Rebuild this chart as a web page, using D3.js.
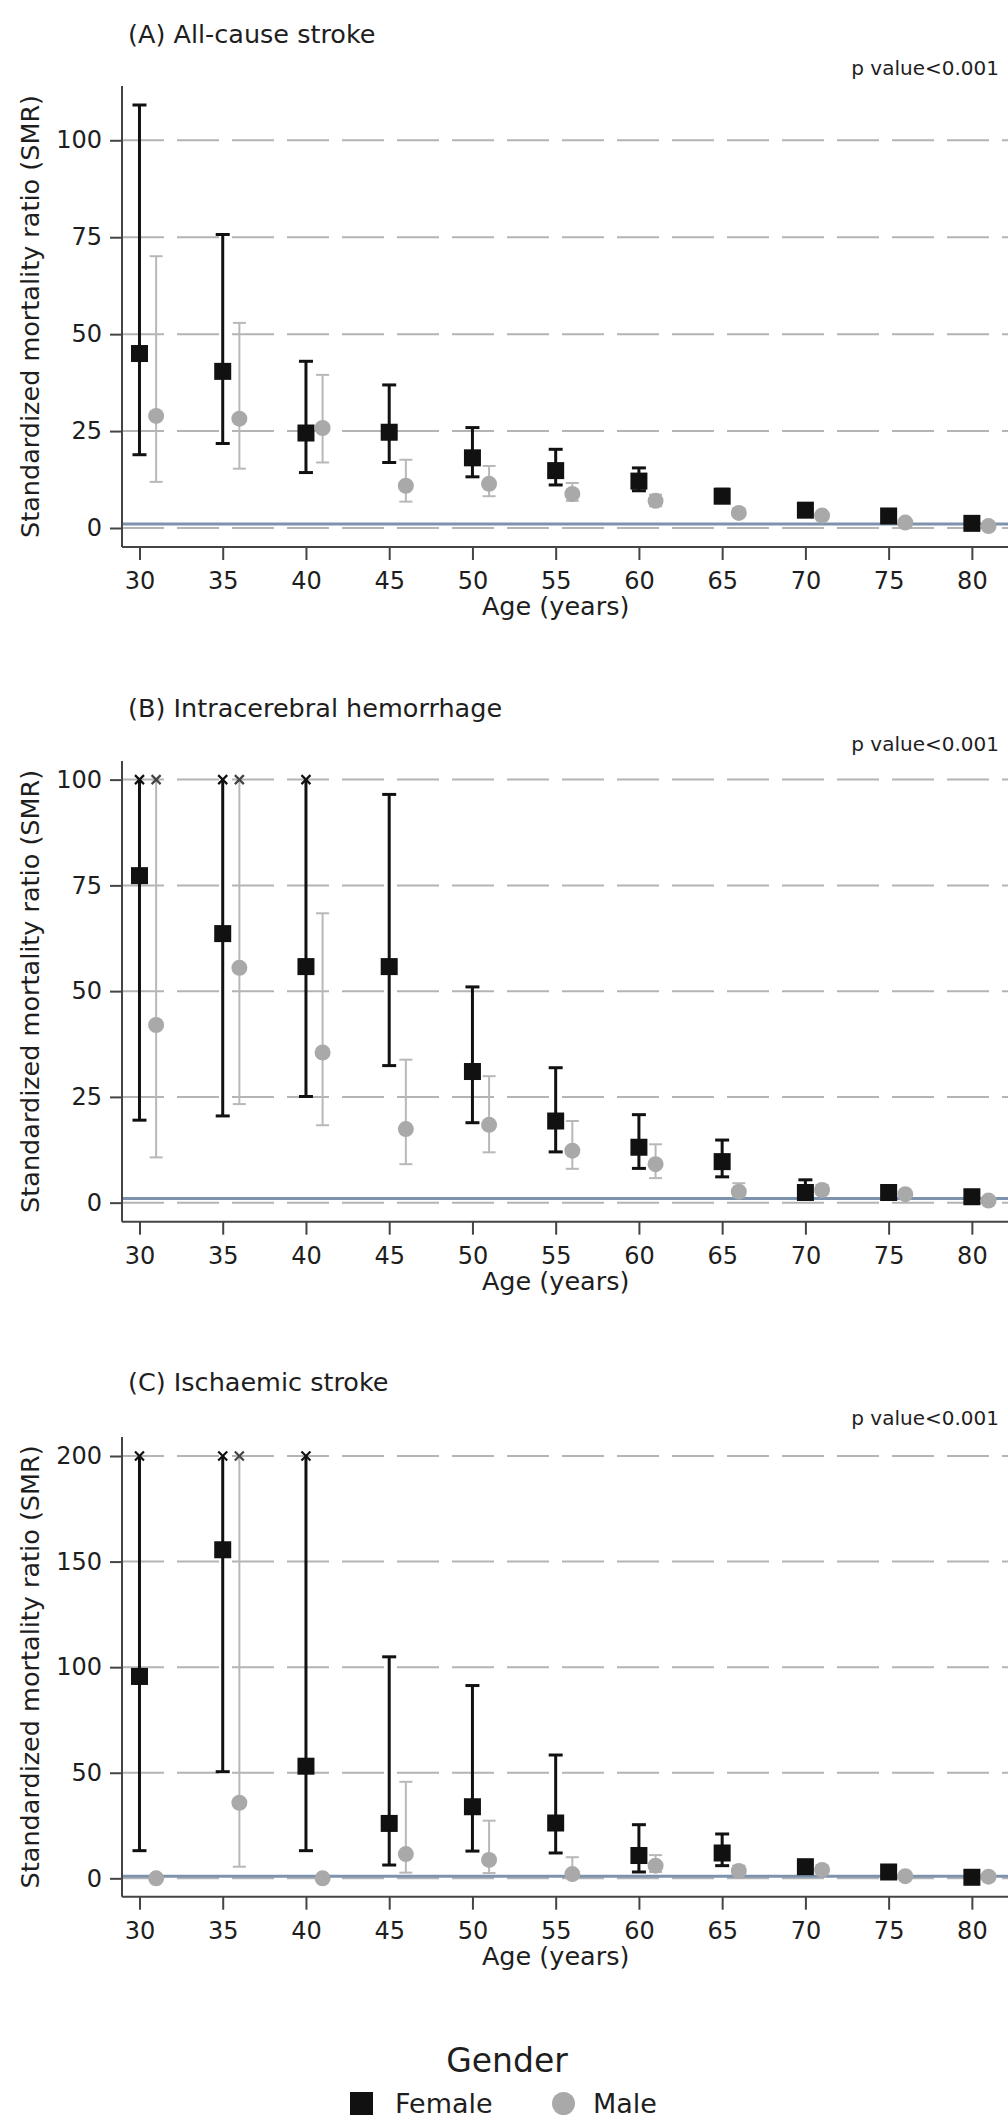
<!DOCTYPE html>
<html><head><meta charset="utf-8">
<script src="https://cdn.jsdelivr.net/npm/d3@7"></script>
<style>body{margin:0;background:#fff}svg{display:block}text{font-family:"DejaVu Sans",sans-serif;fill:#1e1e1e}</style>
</head><body>
<script>
// ---------- data ----------
const ages = [30,35,40,45,50,55,60,65,70,75,80];
const panelTitles = ["(A) All-cause stroke","(B) Intracerebral hemorrhage","(C) Ischaemic stroke"];
const pValueText = "p value<0.001";
const yTicksA = [0,25,50,75,100];
const yTicksB = [0,25,50,75,100];
const yTicksC = [0,50,100,150,200];
const xLabel = "Age (years)";
const yLabel = "Standardized mortality ratio (SMR)";
const legendTitle = "Gender";
const seriesNames = ["Female","Male"];

// Panel A: All-cause stroke
const femaleA      = [45.0,40.4,24.5,24.7,18.1,14.8,12.1, 8.2,4.6,3.1,1.2];
const femaleA_low  = [18.9,21.8,14.3,16.9,13.2,11.1, 9.6, 6.6,3.6,2.3,0.9];
const femaleA_high = [109.1,75.7,43.0,36.9,25.9,20.3,15.5,10.0,5.8,4.0,1.6];
const maleA        = [28.9,28.2,25.8,10.9,11.4, 8.8, 7.0, 3.9,3.2,1.4,0.5];
const maleA_low    = [11.9,15.3,16.9, 6.8, 8.2, 7.0, 5.6, 3.0,2.5,1.0,0.3];
const maleA_high   = [70.1,52.9,39.5,17.6,16.0,11.6, 8.6, 5.0,4.0,2.0,0.8];

// Panel B: Intracerebral hemorrhage (upper limits beyond 100 are truncated)
const femaleB      = [77.3,63.6,55.8,55.8,31.0,19.3,13.1, 9.7,2.4,2.4,1.4];
const femaleB_low  = [19.5,20.5,25.1,32.4,18.9,12.0, 8.1, 6.1,1.2,1.5,0.8];
const femaleB_high = [100,100,100,96.5,51.0,31.9,20.8,14.8,5.4,3.5,2.2];
const femaleB_trunc= [1,1,1,0,0,0,0,0,0,0,0];
const maleB        = [42.0,55.5,35.5,17.4,18.4,12.3, 9.1, 2.6,3.0,2.0,0.5];
const maleB_low    = [10.7,23.3,18.3, 9.1,11.9, 8.0, 5.8, 1.5,2.0,1.3,0.3];
const maleB_high   = [100,100,68.4,33.8,29.9,19.3,13.8, 4.6,4.2,2.8,0.9];
const maleB_trunc  = [1,1,0,0,0,0,0,0,0,0,0];

// Panel C: Ischaemic stroke (upper limits beyond 200 are truncated)
const femaleC      = [95.6,155.6,53.1,26.0,33.9,26.2,10.8,12.0,5.5,3.0,0.5];
const femaleC_low  = [13.1, 50.5,13.1, 6.3,12.9,12.0, 3.0, 6.0,3.0,1.5,0.2];
const femaleC_high = [200,200,200,104.9,91.3,58.4,25.4,21.0,8.0,4.5,1.0];
const femaleC_trunc= [1,1,1,0,0,0,0,0,0,0,0];
const maleC        = [0.0,35.8,0.0,11.5, 8.7, 2.0, 6.0, 3.5,4.0,1.0,0.8];
const maleC_low    = [null,5.5,null,2.7,2.5,0.4,3.0,2.0,2.5,0.5,0.4];
const maleC_high   = [null,200,null,45.7,27.3,10.0,11.0,6.0,6.0,1.5,1.2];
const maleC_trunc  = [0,1,0,0,0,0,0,0,0,0,0];

const refValue = 1;

// ---------- layout ----------
const W = 1008, H = 2122;
const svg = d3.select("body").append("svg").attr("width",W).attr("height",H);

const x = d3.scaleLinear().domain([28.95, 82.17]).range([122, 1008]);

const panels = [
  {title:panelTitles[0], ticks:yTicksA, dom:[-4.9,114], top:86, bottom:547, titleY:34, pY:68,
   f:femaleA, fl:femaleA_low, fh:femaleA_high, ft:null,
   m:maleA, ml:maleA_low, mh:maleA_high, mt:null},
  {title:panelTitles[1], ticks:yTicksB, dom:[-4.5,104.4], top:761, bottom:1221.7, titleY:708, pY:743.6,
   f:femaleB, fl:femaleB_low, fh:femaleB_high, ft:femaleB_trunc,
   m:maleB, ml:maleB_low, mh:maleB_high, mt:maleB_trunc},
  {title:panelTitles[2], ticks:yTicksC, dom:[-8.7,209], top:1437, bottom:1896.7, titleY:1382, pY:1417.5,
   f:femaleC, fl:femaleC_low, fh:femaleC_high, ft:femaleC_trunc,
   m:maleC, ml:maleC_low, mh:maleC_high, mt:maleC_trunc}
];

const FEM = "#111111", MALE_PT = "#a9a9a9", MALE_BAR = "#b8b8b8";

panels.forEach(p => {
  const g = svg.append("g");
  const y = d3.scaleLinear().domain(p.dom).range([p.bottom, p.top]);

  // title & p value
  g.append("text").attr("x",128).attr("y",p.titleY).attr("dominant-baseline","central")
    .style("font-size","25.5px").text(p.title);
  g.append("text").attr("x",999).attr("y",p.pY).attr("dominant-baseline","central")
    .attr("text-anchor","end").style("font-size","20px").text(pValueText);

  // gridlines
  g.selectAll(".grid").data(p.ticks).join("line")
    .attr("x1",122).attr("x2",1008).attr("y1",d=>y(d)).attr("y2",d=>y(d))
    .attr("stroke","#b4b4b4").attr("stroke-width",2).attr("stroke-dasharray","42,13");

  // reference line SMR = 1
  g.append("line").attr("x1",122).attr("x2",1008).attr("y1",y(refValue)).attr("y2",y(refValue))
    .attr("stroke","#7d93ad").attr("stroke-width",3);

  // y axis
  const ya = g.append("g").attr("transform","translate(122,0)")
    .call(d3.axisLeft(y).tickValues(p.ticks).tickSize(12).tickPadding(8).tickFormat(d3.format("d")));
  ya.select(".domain").remove();
  ya.selectAll(".tick line").attr("stroke","#444").attr("stroke-width",2);
  ya.selectAll(".tick text").style("font-size","24px").attr("fill","#1e1e1e");
  g.append("line").attr("x1",122).attr("x2",122).attr("y1",p.top).attr("y2",p.bottom)
    .attr("stroke","#444").attr("stroke-width",2);

  // x axis
  const xa = g.append("g").attr("transform",`translate(0,${p.bottom})`)
    .call(d3.axisBottom(x).tickValues(ages).tickSize(13).tickPadding(12).tickFormat(d3.format("d")));
  xa.select(".domain").remove();
  xa.selectAll(".tick line").attr("stroke","#444").attr("stroke-width",2);
  xa.selectAll(".tick text").style("font-size","24px").attr("fill","#1e1e1e");
  g.append("line").attr("x1",122).attr("x2",1008).attr("y1",p.bottom).attr("y2",p.bottom)
    .attr("stroke","#444").attr("stroke-width",2);

  g.append("text").attr("x",x(55)).attr("y",p.bottom+59).attr("text-anchor","middle")
    .attr("dominant-baseline","central").style("font-size","25.5px").text(xLabel);

  g.append("text").attr("transform",`translate(30,${(p.top+p.bottom)/2}) rotate(-90)`)
    .attr("text-anchor","middle").attr("dominant-baseline","central")
    .style("font-size","25.5px").text(yLabel);

  // series
  const mk = (vals, lo, hi, tr, off) => ages.map((a,i)=>({a:a+off, v:vals[i], lo:lo[i], hi:hi[i], tr: tr? tr[i]:0}));
  const fem = mk(p.f,p.fl,p.fh,p.ft,0);
  const mal = mk(p.m,p.ml,p.mh,p.mt,1);

  function bars(data, color, w, cap, xcolor) {
    const d2 = data.filter(d=>d.lo!=null && d.hi!=null);
    g.append("g").selectAll("line").data(d2).join("line")
      .attr("x1",d=>x(d.a)).attr("x2",d=>x(d.a)).attr("y1",d=>y(d.lo)).attr("y2",d=>y(d.hi))
      .attr("stroke",color).attr("stroke-width",w);
    g.append("g").selectAll("line").data(d2).join("line")
      .attr("x1",d=>x(d.a)-cap/2).attr("x2",d=>x(d.a)+cap/2).attr("y1",d=>y(d.lo)).attr("y2",d=>y(d.lo))
      .attr("stroke",color).attr("stroke-width",w);
    g.append("g").selectAll("line").data(d2.filter(d=>!d.tr)).join("line")
      .attr("x1",d=>x(d.a)-cap/2).attr("x2",d=>x(d.a)+cap/2).attr("y1",d=>y(d.hi)).attr("y2",d=>y(d.hi))
      .attr("stroke",color).attr("stroke-width",w);
    g.append("g").selectAll("path").data(d2.filter(d=>d.tr)).join("path")
      .attr("d",d=>{const cx=x(d.a), cy=y(d.hi), s=4.5;
        return `M${cx-s},${cy-s}L${cx+s},${cy+s}M${cx-s},${cy+s}L${cx+s},${cy-s}`;})
      .attr("stroke",xcolor).attr("stroke-width",2.2).attr("fill","none");
  }
  bars(fem, FEM, 3, 14, "#111");
  bars(mal, MALE_BAR, 2, 13, "#444");

  g.append("g").selectAll("rect").data(fem).join("rect")
    .attr("x",d=>x(d.a)-8.5).attr("y",d=>y(d.v)-8.5).attr("width",17).attr("height",17).attr("fill",FEM);
  g.append("g").selectAll("circle").data(mal).join("circle")
    .attr("cx",d=>x(d.a)).attr("cy",d=>y(d.v)).attr("r",8).attr("fill",MALE_PT);
});

// legend
const lg = svg.append("g");
lg.append("text").attr("x",507).attr("y",2060).attr("text-anchor","middle").attr("dominant-baseline","central")
  .style("font-size","33px").text(legendTitle);
lg.append("rect").attr("x",350).attr("y",2092).attr("width",23).attr("height",23).attr("fill",FEM);
lg.append("text").attr("x",395).attr("y",2103).attr("dominant-baseline","central").style("font-size","27px").text(seriesNames[0]);
lg.append("circle").attr("cx",563.5).attr("cy",2103.5).attr("r",11.5).attr("fill",MALE_PT);
lg.append("text").attr("x",593).attr("y",2103).attr("dominant-baseline","central").style("font-size","27px").text(seriesNames[1]);
</script>
</body></html>
